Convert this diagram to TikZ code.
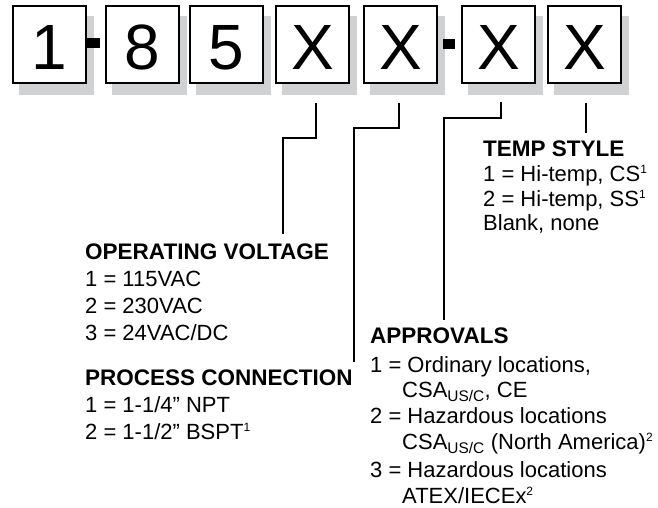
\documentclass[tikz,border=0pt]{standalone}
\usepackage{fontspec}
\setmainfont{Liberation Sans}
\usetikzlibrary{shadows}
\definecolor{shadowgray}{RGB}{208,209,211}

\newcommand{\fnmark}[1]{\textsuperscript{\fontsize{12}{12}\selectfont #1}}

\begin{document}
\begin{tikzpicture}[x=1pt, y=-1pt,
    digit/.style={draw, line width=2pt, fill=white, minimum width=73pt, minimum height=77pt,
      inner sep=0pt, text height=50pt, font=\fontsize{64}{64}\selectfont,
      general shadow={fill=shadowgray, draw=shadowgray, line width=2pt, shadow xshift=6.5pt, shadow yshift=-11.5pt}},
    dashmark/.style={fill=black, minimum width=12.5pt, minimum height=10pt, inner sep=0pt},
    head/.style={anchor=base west, inner sep=0pt, font=\fontsize{22.5}{27}\selectfont\bfseries},
    item/.style={anchor=base west, inner sep=0pt, font=\fontsize{22}{26}\selectfont},
    lead/.style={line width=2pt}]
    \useasboundingbox (0,0) rectangle (658,508);
    % model number boxes
    \node[digit] (b1) at (49.5,44.5) {1};
    \node[digit] (b2) at (142.5,44.5) {8};
    \node[digit] (b3) at (226.5,44.5) {5};
    \node[digit] (b4) at (312.5,44.5) {X};
    \node[digit] (b5) at (400.5,44.5) {X};
    \node[digit] (b6) at (498.5,44.5) {X};
    \node[digit] (b7) at (584.5,44.5) {X};
    \node[dashmark] (d1) at (93.5,43.5) {};
    \node[dashmark] (d2) at (449,44) {};
    % option lists
    \node[head] (volt) at (85,259) {OPERATING VOLTAGE};
    \node[item] (volt1) at (85,286) {1 = 115VAC};
    \node[item] (volt2) at (85,313) {2 = 230VAC};
    \node[item] (volt3) at (85,340) {3 = 24VAC/DC};
    \node[head] (conn) at (85,385) {PROCESS CONNECTION};
    \node[item] (conn1) at (85,412) {1 = 1-1/4” NPT};
    \node[item] (conn2) at (85,439) {2 = 1-1/2” BSPT\fnmark{1}};
    \node[head] (appr) at (370,343) {APPROVALS};
    \node[item] (appr1) at (370,372) {1 = Ordinary locations,};
    \node[item] (appr1b) at (402,397) {CSA\textsubscript{US/C}, CE};
    \node[item] (appr2) at (370,423) {2 = Hazardous locations};
    \node[item] (appr2b) at (402,449) {CSA\textsubscript{US/C} (North America)\fnmark{2}};
    \node[item] (appr3) at (370,477) {3 = Hazardous locations};
    \node[item] (appr3b) at (402,503) {ATEX/IECEx\fnmark{2}};
    \node[head] (temp) at (483,156) {TEMP STYLE};
    \node[item] (temp1) at (483,181) {1 = Hi-temp, CS\fnmark{1}};
    \node[item] (temp2) at (483,206) {2 = Hi-temp, SS\fnmark{1}};
    \node[item] (temp3) at (483,230) {Blank, none};
    % leader lines
    \coordinate (s4) at (316,103);
    \coordinate (e4) at (283,234);
    \coordinate (s5) at (399,103);
    \coordinate (e5) at (354,362);
    \coordinate (s6) at (501,102);
    \coordinate (e6) at (444,320);
    \coordinate (s7) at (586,103);
    \coordinate (e7) at (586,133);
    \draw[lead] (s4) -- ++(0,35) -| (e4);
    \draw[lead] (s5) -- ++(0,25) -| (e5);
    \draw[lead] (s6) -- ++(0,16) -| (e6);
    \draw[lead] (s7) -- (e7);
\end{tikzpicture}
\end{document}
